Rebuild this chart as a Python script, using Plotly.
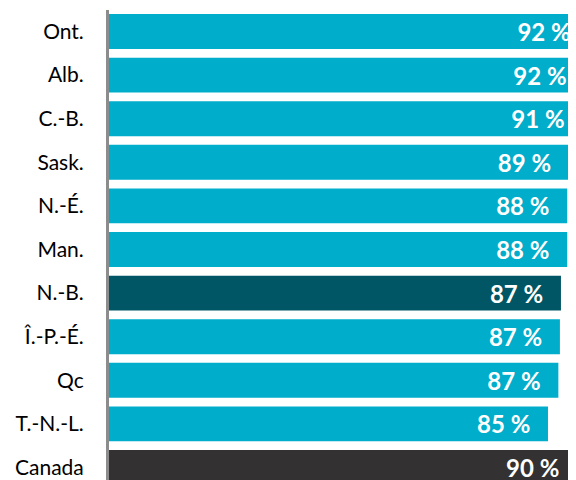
import plotly.graph_objects as go

categories = ["Ont.", "Alb.", "C.-B.", "Sask.", "N.-É.", "Man.", "N.-B.", "Î.-P.-É.", "Qc", "T.-N.-L.", "Canada"]
values = [92.4, 91.6, 91.2, 88.6, 88.3, 88.3, 87.1, 86.9, 86.6, 84.6, 90.2]
value_labels = ["92 %", "92 %", "91 %", "89 %", "88 %", "88 %", "87 %", "87 %", "87 %", "85 %", "90 %"]

TEAL = "#00ADCA"
DARK_TEAL = "#005665"
CANADA = "#333131"
colors = [DARK_TEAL if c == "N.-B." else CANADA if c == "Canada" else TEAL for c in categories]

pad = "\u00a0\u00a0\u2009"
fig = go.Figure(
    go.Bar(
        x=values,
        y=categories,
        orientation="h",
        marker=dict(color=colors, line=dict(width=0)),
        text=[t + pad for t in value_labels],
        textposition="inside",
        insidetextanchor="end",
        textangle=0,
        constraintext="none",
        textfont=dict(family="Lato", size=24, color="white", weight="bold"),
        hoverinfo="skip",
    )
)

# the page body adds an 8 px offset; margins compensate so the plot area
# spans x 109..576 and y 10..480 in the window
fig.update_layout(
    width=576,
    height=480,
    margin=dict(l=101, r=8, t=2, b=8, autoexpand=False),
    paper_bgcolor="white",
    plot_bgcolor="white",
    bargap=0.2,
    showlegend=False,
    font=dict(family="Lato", size=21, color="#000000"),
)
fig.update_xaxes(range=[0, 90], visible=False, showgrid=False, zeroline=False, automargin=False)
fig.update_yaxes(
    categoryorder="array",
    categoryarray=categories,
    range=[10.287, -0.493],
    showline=True,
    linecolor="#8C8C8C",
    linewidth=3,
    ticks="",
    showgrid=False,
    zeroline=False,
    automargin=False,
    ticklabelstandoff=18,
    tickfont=dict(family="Lato", size=21, color="#000000"),
)

fig.write_html("out.html")
